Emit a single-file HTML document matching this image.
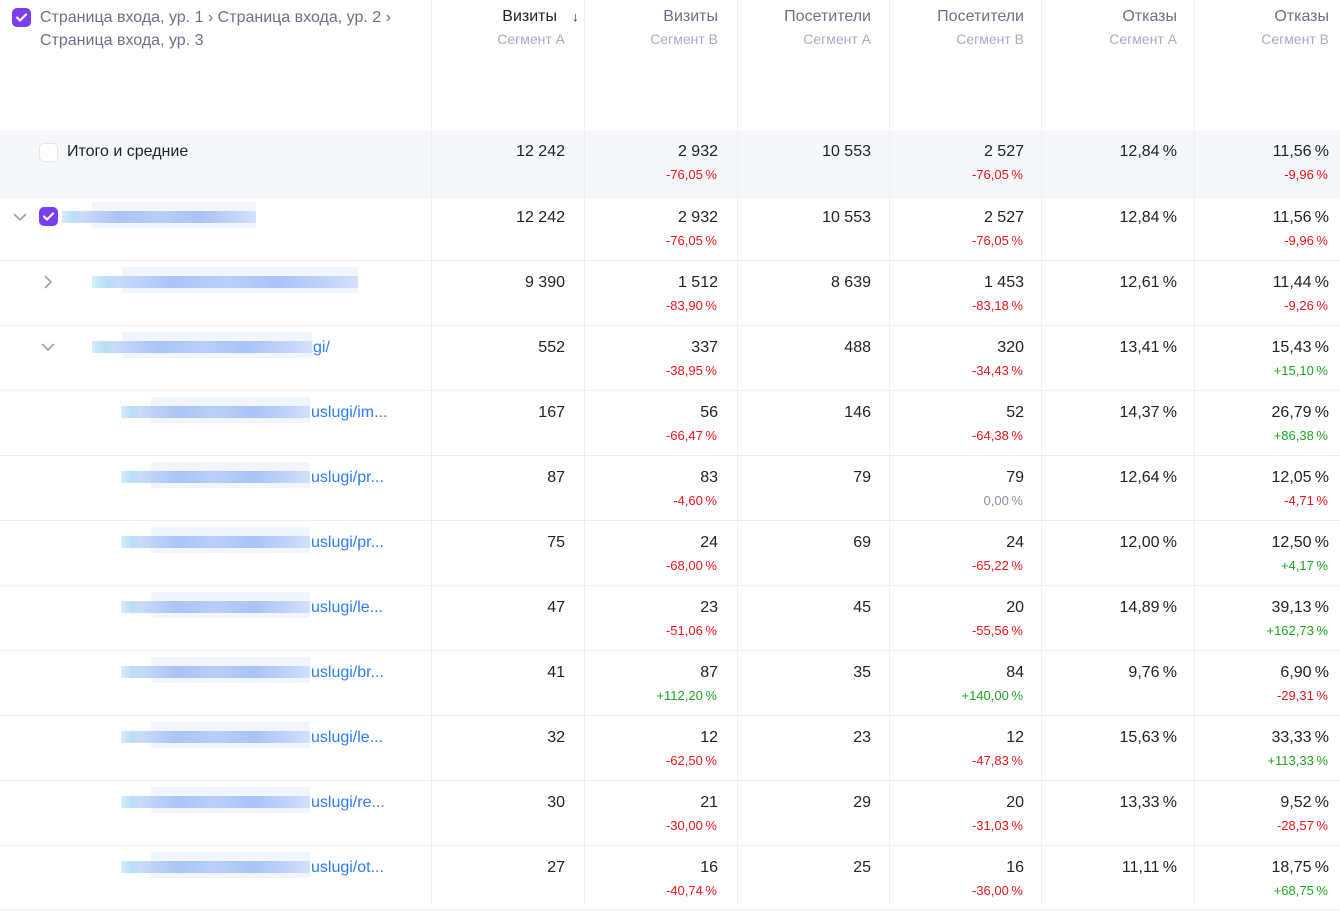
<!DOCTYPE html>
<html><head><meta charset="utf-8">
<style>
*{box-sizing:border-box;margin:0;padding:0}
body{width:1340px;height:904px;overflow:hidden;background:#fff;font-family:"Liberation Sans","Noto Sans CJK SC",sans-serif;color:#21232b;position:relative}
.abs{position:absolute}
.vline{position:absolute;top:0;width:1px;height:904px;background:#eef0f4}
.hline{position:absolute;left:0;width:1340px;height:1px;background:#eceef3}
.hdr{position:absolute;text-align:right;font-size:16px;color:#6b7187}
.hdr .sub{font-size:14px;color:#a7adbf;margin-top:5px}
.num{position:absolute;text-align:right;font-size:16px;color:#21232b;white-space:nowrap}
.delta{position:absolute;text-align:right;font-size:13px;white-space:nowrap}
.cb{position:absolute;width:19px;height:19px;border-radius:5px;background:#7a3ef0}
.cb svg{position:absolute;left:3px;top:4px}
.blur{position:absolute;height:12px;background:linear-gradient(90deg,#d6eefb 0,#b6def4 6%,#c9dbfb 10%,#aac4f8 30%,#b9cff9 50%,#a9c3f8 70%,#c3d5fa 90%,#d3e1fb 100%)}
.blur2{position:absolute;height:26px;background:rgba(225,233,250,0.45)}
.link{position:absolute;font-size:16px;color:#2e7cf6;white-space:nowrap}
</style></head><body>
<div class="abs" style="left:0;top:130px;width:1340px;height:66px;background:#f6f7fa;box-shadow:0 2px 3px rgba(0,0,0,0.05)"></div>
<div id="root"></div>

<div class="cb" style="left:12px;top:8px"><svg width="13" height="11" viewBox="0 0 13 11"><path d="M2 5.5l3 3 6-6" stroke="#fff" stroke-width="2.2" fill="none" stroke-linecap="round" stroke-linejoin="round"/></svg></div>
<div class="abs" style="left:40px;top:6px;font-size:16px;color:#6b7187;line-height:23px;width:380px">Страница входа, ур. 1 › Страница входа, ур. 2 ›<br>Страница входа, ур. 3</div>

<div class="abs" style="left:39px;top:143px;width:19px;height:19px;border:1px solid #e3e5ec;border-radius:5px;background:#fff"></div>
<div class="abs" style="left:67px;top:143px;font-size:16px;color:#21232b">Итого и средние</div>

<script>
const colHeaders = ["Визиты","Визиты","Посетители","Посетители","Отказы","Отказы"];
const colSegments = ["Сегмент А","Сегмент В","Сегмент А","Сегмент В","Сегмент А","Сегмент В"];
const visitsA = ["12 242","12 242","9 390","552","167","87","75","47","41","32","30","27"];
const visitsB = ["2 932","2 932","1 512","337","56","83","24","23","87","12","21","16"];
const visitsBDelta = ["-76,05 %","-76,05 %","-83,90 %","-38,95 %","-66,47 %","-4,60 %","-68,00 %","-51,06 %","+112,20 %","-62,50 %","-30,00 %","-40,74 %"];
const visitorsA = ["10 553","10 553","8 639","488","146","79","69","45","35","23","29","25"];
const visitorsB = ["2 527","2 527","1 453","320","52","79","24","20","84","12","20","16"];
const visitorsBDelta = ["-76,05 %","-76,05 %","-83,18 %","-34,43 %","-64,38 %","0,00 %","-65,22 %","-55,56 %","+140,00 %","-47,83 %","-31,03 %","-36,00 %"];
const bounceA = ["12,84 %","12,84 %","12,61 %","13,41 %","14,37 %","12,64 %","12,00 %","14,89 %","9,76 %","15,63 %","13,33 %","11,11 %"];
const bounceB = ["11,56 %","11,56 %","11,44 %","15,43 %","26,79 %","12,05 %","12,50 %","39,13 %","6,90 %","33,33 %","9,52 %","18,75 %"];
const bounceBDelta = ["-9,96 %","-9,96 %","-9,26 %","+15,10 %","+86,38 %","-4,71 %","+4,17 %","+162,73 %","-29,31 %","+113,33 %","-28,57 %","+68,75 %"];
const linkSuffix = ["","","","gi/","uslugi/im...","uslugi/pr...","uslugi/pr...","uslugi/le...","uslugi/br...","uslugi/le...","uslugi/re...","uslugi/ot..."];

const root = document.getElementById('root');
const colLeft = [431,584,737,889,1041,1194];
const colRight = [565,718,871,1024,1177,1329];
function mk(cls, css, text){const d=document.createElement('div');if(cls)d.className=cls;d.style.cssText=css;if(text!==undefined)d.textContent=text;root.appendChild(d);return d;}
function fmt(s){return s.replace(' %','\u2009%');}

colLeft.forEach((x,i)=>{
  const v=mk('vline','left:'+x+'px');
  
  
});
colHeaders.forEach((h,i)=>{
  const d=mk('hdr','right:'+(1340-colRight[i])+'px;top:8px;'+(i===0?'color:#21232b;':''));
  
  
  d.innerHTML='<div style="'+(i===0?'margin-right:8px':'')+'">'+h+'</div><div class="sub">'+colSegments[i]+'</div>';
});
const arrow=mk('abs','left:572px;top:9px;font-size:13px;color:#21232b','↓');



function rowTop(r){return r===0?130:196+(r-1)*65;}
const values=[visitsA,visitsB,visitorsA,visitorsB,bounceA,bounceB];
const deltas=[null,visitsBDelta,null,visitorsBDelta,null,bounceBDelta];
for(let r=0;r<visitsA.length;r++){
  const t=rowTop(r);
  if(r>=1){
    const hl=mk('hline','top:'+(t+64)+'px');
    
    
  }
  values.forEach((arr,c)=>{
    const n=mk('num','right:'+(1340-colRight[c])+'px;top:'+(t+13)+'px',fmt(arr[r]));
    
    
    if(deltas[c]){
      const dv=deltas[c][r];
      const col=dv.charAt(0)==='+'?'#1fa61f':(dv.charAt(0)==='-'?'#e8161b':'#8a90a2');
      const dd=mk('delta','right:'+(1340-colRight[c]+1)+'px;top:'+(t+37)+'px;color:'+col,fmt(dv));
      
      
    }
  });
  if(r===0) continue;
  let blurL, blurW;
  if(r===1){blurL=62;blurW=194;}
  else if(r===2){blurL=92;blurW=266;}
  else if(r===3){blurL=92;blurW=220;}
  else {blurL=121;blurW=189;}
  const bg=mk('blur2','left:'+(blurL+30)+'px;top:'+(t+6)+'px;width:'+(blurW-30)+'px');
  
  
  const b=mk('blur','left:'+blurL+'px;top:'+(t+15)+'px;width:'+blurW+'px');
  
  
  if(linkSuffix[r]){
    const l=mk('link','left:'+(blurL+blurW+1)+'px;top:'+(t+13)+'px',linkSuffix[r]);
    
    
  }
  if(r<=3){
    const cx=r===1?20:48;
    const down=(r!==2);
    const ch=mk('abs','left:'+(cx-8)+'px;top:'+(t+13)+'px;width:16px;height:16px');
    ch.innerHTML=down?'<svg width="16" height="16"><path d="M2 5l6 6 6-6" stroke="#9aa0b0" stroke-width="1.6" fill="none"/></svg>':'<svg width="16" height="16"><path d="M5 2l6 6-6 6" stroke="#9aa0b0" stroke-width="1.6" fill="none"/></svg>';
    
    
  }
  if(r===1){
    const cb=mk('cb','left:39px;top:'+(t+11)+'px');
    cb.innerHTML='<svg width="13" height="11" viewBox="0 0 13 11"><path d="M2 5.5l3 3 6-6" stroke="#fff" stroke-width="2.2" fill="none" stroke-linecap="round" stroke-linejoin="round"/></svg>';
    
    
  }
}
</script>
</body></html>
